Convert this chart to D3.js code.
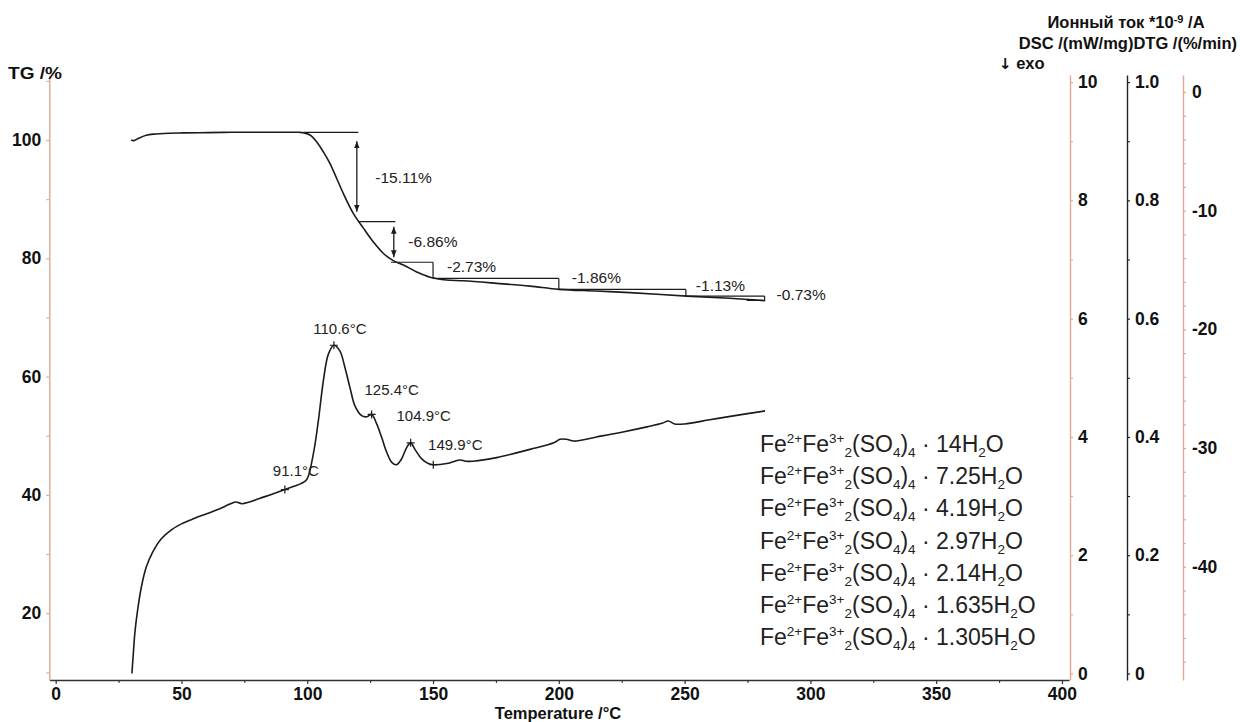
<!DOCTYPE html>
<html><head><meta charset="utf-8">
<script src="https://cdn.jsdelivr.net/npm/d3@7"></script>
<style>body{margin:0;background:#fff} svg{display:block;font-family:"Liberation Sans",Arial,sans-serif}</style>
</head><body><svg id="c" width="1240" height="722"></svg>
<script>
// ---------- data ----------
const tgT = [30,31,33,36,39,45,50.6,60,70,80,90,97,98.4,101.1,103.7,106.4,109,111.7,114.3,118.3,122.3,126.2,130.2,134.2,138.2,143.5,148.8,155.4,162,175.3,188.5,200,215,228.3,250.8,268,282];
const tgV = [100.0,99.9,100.3,100.8,101.0,101.15,101.2,101.25,101.3,101.3,101.3,101.3,101.23,100.85,99.7,98.0,96.06,93.5,91.0,87.6,85.1,82.8,80.85,79.6,78.87,77.7,76.8,76.33,76.2,75.77,75.3,74.75,74.47,74.2,73.6,73.24,72.83];

const dscT = [30.3,30.8,31.5,32.5,34,36,38.5,42,46,50,55,60,65,69,71.5,74,77,81,86,91.1,95,97.5,99.8,102.4,104.4,106.4,108.4,110.6,113,115,117,119,121.6,123.6,125.6,127.6,129.6,131.6,133.6,135.5,137.5,139.5,141.1,142.8,145.5,148.1,150.1,155.4,158,160.7,163,166,175.3,188.5,198,200.5,203,206,215,225,235,241,243.5,246,250,260,270,282];
const dscV = [0.00,0.30,0.70,1.05,1.45,1.80,2.05,2.28,2.43,2.53,2.62,2.70,2.78,2.86,2.90,2.87,2.90,2.96,3.03,3.11,3.17,3.21,3.28,3.71,4.27,4.95,5.40,5.55,5.45,5.17,4.83,4.52,4.36,4.34,4.38,4.22,3.99,3.74,3.57,3.53,3.63,3.82,3.90,3.79,3.63,3.55,3.53,3.55,3.58,3.61,3.59,3.59,3.65,3.79,3.90,3.96,3.96,3.93,4.00,4.08,4.17,4.23,4.27,4.22,4.22,4.29,4.36,4.44];

const stepStartT = [98.4,120.3,133.3,150,200,250.5];
const stepEndT   = [120.3,135.0,150,200,250.5,281.8];
const stepDelta  = [-15.11,-6.86,-2.73,-1.86,-1.13,-0.73];
const stepStartLevel = 101.30;
const stepLabels = ["-15.11%","-6.86%","-2.73%","-1.86%","-1.13%","-0.73%"];

const peakT = [91.1,110.6,125.6,141.1,150.1];
const peakLabels = ["91.1°C","110.6°C","125.4°C","104.9°C","149.9°C"];

const waterCounts = ["14","7.25","4.19","2.97","2.14","1.635","1.305"];

const xTicks = [0,50,100,150,200,250,300,350,400];
const xMinor = [25,75,125,175,225,275,325,375];
const tgTicks = [20,40,60,80,100];
const tgMinor = [10,30,50,70,90,110];
const dscTicks = [0,2,4,6,8,10];
const dscMinor = [1,3,5,7,9];
const ionTicks = [0,0.2,0.4,0.6,0.8,1.0];
const ionMinor = [0.1,0.3,0.5,0.7,0.9];
const dtgTicks = [0,-10,-20,-30,-40];
const dtgMinor = [-2,-4,-6,-8,-12,-14,-16,-18,-22,-24,-26,-28,-32,-34,-36,-38,-42,-44,-46,-48];

// ---------- layout ----------
const svg = d3.select("#c");
const TOP = 75, BOT = 680;
const x = d3.scaleLinear().domain([-2.54, 402.8]).range([49.3, 1069]);
const yTG = d3.scaleLinear().domain([8.71, 110.99]).range([BOT, TOP]);
const yDSC = d3.scaleLinear().domain([-0.11, 10.12]).range([BOT, TOP]);
const yION = d3.scaleLinear().domain([-0.011, 1.012]).range([BOT, TOP]);
const yDTG = d3.scaleLinear().domain([-49.54, 1.43]).range([BOT, TOP]);

const salmon = "#dfa892";
const ink = "#1b1b1b";
const FS = 16.5, TFS = 17.5;

function styleAxis(g, col){
  g.select(".domain").attr("stroke", col).attr("stroke-width", 1.4);
  g.selectAll(".tick line").attr("stroke", col).attr("stroke-width", 1.2);
  g.selectAll(".tick text").attr("fill", "#111").attr("font-size", TFS).attr("font-weight", "bold")
    .attr("font-family", '"Liberation Sans", Arial, sans-serif');
}
function minorAxis(axisFn, scale, vals, tx, ty, col){
  const g = svg.append("g").attr("transform", `translate(${tx},${ty})`)
    .call(axisFn(scale).tickValues(vals).tickSize(3).tickFormat("").tickSizeOuter(0));
  g.select(".domain").remove();
  g.selectAll(".tick line").attr("stroke", col).attr("stroke-width", 1.1);
}

// bottom axis
const gx = svg.append("g").attr("transform", `translate(0,${BOT})`)
  .call(d3.axisBottom(x).tickValues(xTicks).tickSize(4).tickPadding(4).tickSizeOuter(0).tickFormat(d3.format("d")));
styleAxis(gx, "#333");
minorAxis(d3.axisBottom, x, xMinor, 0, BOT, "#333");

// left TG axis
const gy = svg.append("g").attr("transform", `translate(49.3,0)`)
  .call(d3.axisLeft(yTG).tickValues(tgTicks).tickSize(3).tickPadding(5).tickSizeOuter(0));
styleAxis(gy, salmon);
minorAxis(d3.axisLeft, yTG, tgMinor, 49.3, 0, salmon);

// right DSC axis
const gd = svg.append("g").attr("transform", `translate(1070,0)`)
  .call(d3.axisRight(yDSC).tickValues(dscTicks).tickSize(3).tickPadding(5).tickSizeOuter(0).tickFormat(d3.format("d")));
styleAxis(gd, salmon);
minorAxis(d3.axisRight, yDSC, dscMinor, 1070, 0, salmon);

// ion current axis
const gi = svg.append("g").attr("transform", `translate(1127,0)`)
  .call(d3.axisRight(yION).tickValues(ionTicks).tickSize(3).tickPadding(5).tickSizeOuter(0)
    .tickFormat(d => d === 0 ? "0" : d.toFixed(1)));
styleAxis(gi, "#222");
minorAxis(d3.axisRight, yION, ionMinor, 1127, 0, "#222");

// DTG axis
const gt = svg.append("g").attr("transform", `translate(1183,0)`)
  .call(d3.axisRight(yDTG).tickValues(dtgTicks).tickSize(3).tickPadding(6).tickSizeOuter(0)
    .tickFormat(d => String(d)));
styleAxis(gt, salmon);
minorAxis(d3.axisRight, yDTG, dtgMinor, 1183, 0, salmon);

// axis titles
const bold = sel => sel.attr("font-weight","bold").attr("font-size",FS).attr("fill","#111");
bold(svg.append("text").attr("x", 8).attr("y", 79).attr("textLength", 54).attr("lengthAdjust","spacingAndGlyphs").text("TG /%"));
bold(svg.append("text").attr("x", 558).attr("y", 719).attr("text-anchor","middle").text("Temperature /°C"));
const t1 = bold(svg.append("text").attr("x", 1126).attr("y", 28).attr("text-anchor","middle"));
t1.append("tspan").text("Ионный ток *10");
t1.append("tspan").attr("dy",-5).attr("font-size",11).text("-9");
t1.append("tspan").attr("dy",5).text(" /A");
bold(svg.append("text").attr("x", 1237).attr("y", 49).attr("text-anchor","end").text("DSC /(mW/mg)DTG /(%/min)"));
const ex = bold(svg.append("text").attr("x", 999).attr("y", 69));
ex.append("tspan").attr("font-family",'"DejaVu Sans", sans-serif').attr("font-size",15).text("↓");
ex.append("tspan").text(" exo");

// TG curve
const tgData = tgT.map((t,i)=>[t,tgV[i]]);
svg.append("path").datum(tgData)
  .attr("fill","none").attr("stroke",ink).attr("stroke-width",1.6)
  .attr("d", d3.line().x(d=>x(d[0])).y(d=>yTG(d[1])).curve(d3.curveCatmullRom));

// DSC curve
const dscData = dscT.map((t,i)=>[t,dscV[i]]);
svg.append("path").datum(dscData)
  .attr("fill","none").attr("stroke",ink).attr("stroke-width",1.6)
  .attr("d", d3.line().x(d=>x(d[0])).y(d=>yDSC(d[1])).curve(d3.curveCatmullRom));

// step evaluation lines
const defs = svg.append("defs");
defs.append("marker").attr("id","ah").attr("viewBox","0 0 10 10").attr("refX",10).attr("refY",5)
  .attr("markerWidth",7).attr("markerHeight",7).attr("markerUnits","userSpaceOnUse").attr("orient","auto-start-reverse")
  .append("path").attr("d","M0,1 L10,5 L0,9 Z").attr("fill",ink);

const labelDx = [17,13,14,13,10,12];
const labelDy = [45,20,4,-1,-4,-2];
let level = stepStartLevel;
stepDelta.forEach((dl,i)=>{
  const lv0 = level, lv1 = level + dl;
  const xs = x(stepStartT[i]), xe = x(stepEndT[i]);
  svg.append("line").attr("x1",xs).attr("x2",xe).attr("y1",yTG(lv0)).attr("y2",yTG(lv0))
    .attr("stroke",ink).attr("stroke-width",1.2);
  if (i < 2) {
    const ax = xe - 1.5;
    const g0 = i===0 ? 9 : 5, g1 = i===0 ? 10 : 5;
    svg.append("line").attr("x1",ax).attr("x2",ax).attr("y1",yTG(lv0)+g0).attr("y2",yTG(lv1)-g1)
      .attr("stroke",ink).attr("stroke-width",1.3)
      .attr("marker-start","url(#ah)").attr("marker-end","url(#ah)");
  } else {
    svg.append("line").attr("x1",xe).attr("x2",xe).attr("y1",yTG(lv0)).attr("y2",yTG(lv1))
      .attr("stroke",ink).attr("stroke-width",1.2);
  }
  if (i === 5) {
    svg.append("line").attr("x1",xe).attr("x2",xe-18).attr("y1",yTG(lv1)).attr("y2",yTG(lv1))
      .attr("stroke",ink).attr("stroke-width",1.2);
  }
  svg.append("text").attr("x", xe + labelDx[i]).attr("y", yTG(lv0) + labelDy[i]).attr("dy","0.35em")
    .attr("font-size",15.5).attr("fill","#222").text(stepLabels[i]);
  level = lv1;
});

// peak markers
const peakDx = [11,6,20,13,22];
const peakDy = [-19,-17,-25,-27,-20];
peakT.forEach((t,i)=>{
  const v = dscV[dscT.indexOf(t)];
  const px = x(t), py = yDSC(v);
  svg.append("path").attr("d",`M${px-4},${py}H${px+4}M${px},${py-4}V${py+4}`)
    .attr("stroke",ink).attr("stroke-width",1.2);
  svg.append("text").attr("x",px+peakDx[i]).attr("y",py+peakDy[i]).attr("dy","0.35em")
    .attr("text-anchor","middle").attr("font-size",15).attr("fill","#222").text(peakLabels[i]);
});

// formula list
const FF = 23, SF = 13.5;
waterCounts.forEach((w,i)=>{
  const t = svg.append("text").attr("x",760).attr("y",452 + i*32.2).attr("font-size",FF).attr("fill","#222");
  t.append("tspan").text("Fe");
  t.append("tspan").attr("font-size",SF).attr("dy",-9).text("2+");
  t.append("tspan").attr("dy",9).text("Fe");
  t.append("tspan").attr("font-size",SF).attr("dy",-9).text("3+");
  t.append("tspan").attr("font-size",SF).attr("dy",14).text("2");
  t.append("tspan").attr("dy",-5).text("(SO");
  t.append("tspan").attr("font-size",SF).attr("dy",5).text("4");
  t.append("tspan").attr("dy",-5).text(")");
  t.append("tspan").attr("font-size",SF).attr("dy",5).text("4");
  t.append("tspan").attr("dy",-5).text(" · " + w + "H");
  t.append("tspan").attr("font-size",SF).attr("dy",5).text("2");
  t.append("tspan").attr("dy",-5).text("O");
});
</script></body></html>
